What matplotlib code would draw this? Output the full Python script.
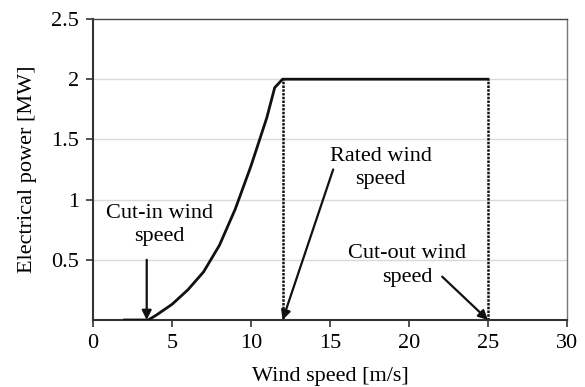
import numpy as np
import matplotlib
matplotlib.use("Agg")
import matplotlib.pyplot as plt

plt.rcParams['font.family'] = ['Liberation Serif', 'DejaVu Serif']

# power curve
wind_speed = [2.0, 3.5, 4.0, 5.0, 6.0, 7.0, 8.0, 9.0, 10.0, 11.0, 11.5, 12.0, 25.0]
power_mw = [0.0, 0.0, 0.04, 0.13, 0.25, 0.40, 0.62, 0.92, 1.28, 1.68, 1.93, 2.0, 2.0]

rated_speed = 12.0
cutout_speed = 25.0
rated_power = 2.0

x_ticks = [0, 5, 10, 15, 20, 25, 30]
y_ticks = [0.5, 1, 1.5, 2, 2.5]
y_tick_labels = ['0.5', '1', '1.5', '2', '2.5']

fig = plt.figure(figsize=(5.85, 3.87), dpi=100)
ax = fig.add_axes([93 / 585, 1 - 320 / 387, (567 - 93) / 585, (320 - 19) / 387])

ax.set_xlim(0, 30)
ax.set_ylim(0, 2.5)

for y in [0.5, 1, 1.5, 2]:
    ax.axhline(y, color='#d9d9d9', lw=1.0, zorder=0)

ax.plot(wind_speed, power_mw, color='#111111', lw=2.0, zorder=3)

# vertical dashed lines at rated and cut-out speed
ax.plot([rated_speed, rated_speed], [0, rated_power], color='#111111', lw=1.8,
        linestyle=(0, (1.0, 0.5)), zorder=2)
ax.plot([cutout_speed, cutout_speed], [0, rated_power], color='#111111', lw=1.8,
        linestyle=(0, (1.0, 0.5)), zorder=2)

arrow = dict(arrowstyle='-|>', color='#111111', lw=1.6, mutation_scale=14,
             shrinkA=0, shrinkB=0)

ax.annotate('', xy=(3.4, 0.0), xytext=(3.4, 0.5), arrowprops=arrow)
ax.text(4.2, 0.79, 'Cut-in wind\nspeed', ha='center', va='center',
        fontsize=16, linespacing=1.3)

ax.annotate('', xy=(12.0, 0.0), xytext=(15.2, 1.25), arrowprops=arrow)
ax.text(18.2, 1.26, 'Rated wind\nspeed', ha='center', va='center',
        fontsize=16, linespacing=1.3)

ax.annotate('', xy=(25.0, 0.0), xytext=(22.1, 0.36), arrowprops=arrow)
ax.text(19.9, 0.45, 'Cut-out wind\nspeed', ha='center', va='center',
        fontsize=16, linespacing=1.35)

ax.set_xticks(x_ticks)
ax.set_yticks(y_ticks)
ax.set_yticklabels(y_tick_labels)
ax.tick_params(direction='out', length=5, width=1.2, color='#333333',
               labelsize=16, pad=5)
ax.set_xlabel('Wind speed [m/s]', fontsize=16, labelpad=10)
ax.set_ylabel('Electrical power [MW]', fontsize=16, labelpad=10)

ax.spines['left'].set_color('#333333')
ax.spines['left'].set_linewidth(1.5)
ax.spines['bottom'].set_color('#333333')
ax.spines['bottom'].set_linewidth(1.5)
ax.spines['top'].set_color('#444444')
ax.spines['top'].set_linewidth(1.0)
ax.spines['right'].set_color('#777777')
ax.spines['right'].set_linewidth(1.0)

fig.savefig('out.png', dpi=100)
plt.close(fig)
